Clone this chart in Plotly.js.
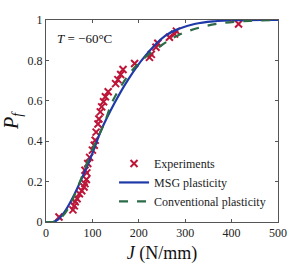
<!DOCTYPE html>
<html><head><meta charset="utf-8">
<script src="https://cdn.plot.ly/plotly-3.0.1.min.js"></script>
<style>html,body{margin:0;padding:0;background:#fff;}#chart{width:308px;height:265px;}</style>
</head><body><div id="chart"></div>
<script>
// Experimental failure probabilities
const expJ = [28, 58, 61, 63, 67, 72, 77, 82, 84, 87, 88, 84, 90, 94, 100, 104, 106, 108, 112, 114, 117, 120, 124, 128, 134, 150, 155, 161, 166, 191, 223, 227, 237, 241, 266, 277, 281, 415];
const expP = [0.025, 0.06, 0.08, 0.10, 0.115, 0.14, 0.155, 0.173, 0.19, 0.21, 0.243, 0.256, 0.29, 0.32, 0.356, 0.38, 0.405, 0.445, 0.485, 0.51, 0.545, 0.57, 0.595, 0.62, 0.645, 0.685, 0.705, 0.73, 0.755, 0.785, 0.815, 0.83, 0.865, 0.885, 0.915, 0.93, 0.945, 0.98];
// MSG plasticity prediction
const msgJ = [0, 15, 25, 40, 53, 75, 100, 119, 148, 177, 213, 256, 285, 320, 360, 420, 500];
const msgP = [0, 0, 0.01, 0.05, 0.10, 0.205, 0.34, 0.455, 0.59, 0.705, 0.82, 0.92, 0.955, 0.98, 0.993, 0.999, 1];
// Conventional plasticity prediction
const convJ = [0, 15, 25, 40, 55, 75, 100, 126, 144, 177, 206, 249, 285, 330, 380, 440, 500];
const convP = [0, 0, 0.008, 0.04, 0.10, 0.21, 0.36, 0.49, 0.6, 0.725, 0.80, 0.875, 0.925, 0.962, 0.985, 0.996, 1];

const serif = "Liberation Serif";
const traces = [
  {x: expJ, y: expP, mode: 'markers', name: 'Experiments',
   marker: {symbol: 'x-thin-open', size: 7, color: '#bc1538', line: {width: 2, color: '#bc1538'}}},
  {x: msgJ, y: msgP, mode: 'lines', name: 'MSG plasticity',
   line: {color: '#1f3aa8', width: 2.2, shape: 'spline', smoothing: 1}},
  {x: convJ, y: convP, mode: 'lines', name: 'Conventional plasticity',
   line: {color: '#2d6a47', width: 2.2, dash: 'dash', shape: 'spline', smoothing: 1}}
];
const axisCommon = {
  showgrid: false, zeroline: false, showline: true, mirror: 'ticks',
  linecolor: '#555', linewidth: 1, ticks: 'inside', ticklen: 3, tickcolor: '#555',
  tickfont: {family: serif, size: 12, color: '#222'}
};
const layout = {
  width: 308, height: 265,
  margin: {l: 46, r: 30, t: 20, b: 43},
  paper_bgcolor: '#fff', plot_bgcolor: '#fff',
  font: {family: serif},
  showlegend: true,
  legend: {x: 0.97, xanchor: 'right', y: 0.03, yanchor: 'bottom',
           bgcolor: 'rgba(255,255,255,0)', font: {family: serif, size: 12, color: '#222'},
           itemwidth: 30, tracegroupgap: 0},
  xaxis: Object.assign({}, axisCommon, {range: [0, 500], tickvals: [0, 100, 200, 300, 400, 500],
    title: {text: '<i>J</i> (N/mm)', font: {family: serif, size: 18, color: '#111'}, standoff: 6}}),
  yaxis: Object.assign({}, axisCommon, {range: [0, 1], tickvals: [0, 0.2, 0.4, 0.6, 0.8, 1],
    ticktext: ['0', '0.2', '0.4', '0.6', '0.8', '1'],
    title: {text: '<i>P<sub>f</sub></i>', font: {family: serif, size: 20, color: '#111'}, standoff: 6}}),
  annotations: [{xref: 'paper', yref: 'paper', x: 0.04, y: 0.955, xanchor: 'left', yanchor: 'top',
    text: '<i>T</i> = −60°C', showarrow: false, font: {family: serif, size: 13, color: '#111'}}]
};
Plotly.newPlot('chart', traces, layout, {displayModeBar: false, staticPlot: true});
</script>
</body></html>
